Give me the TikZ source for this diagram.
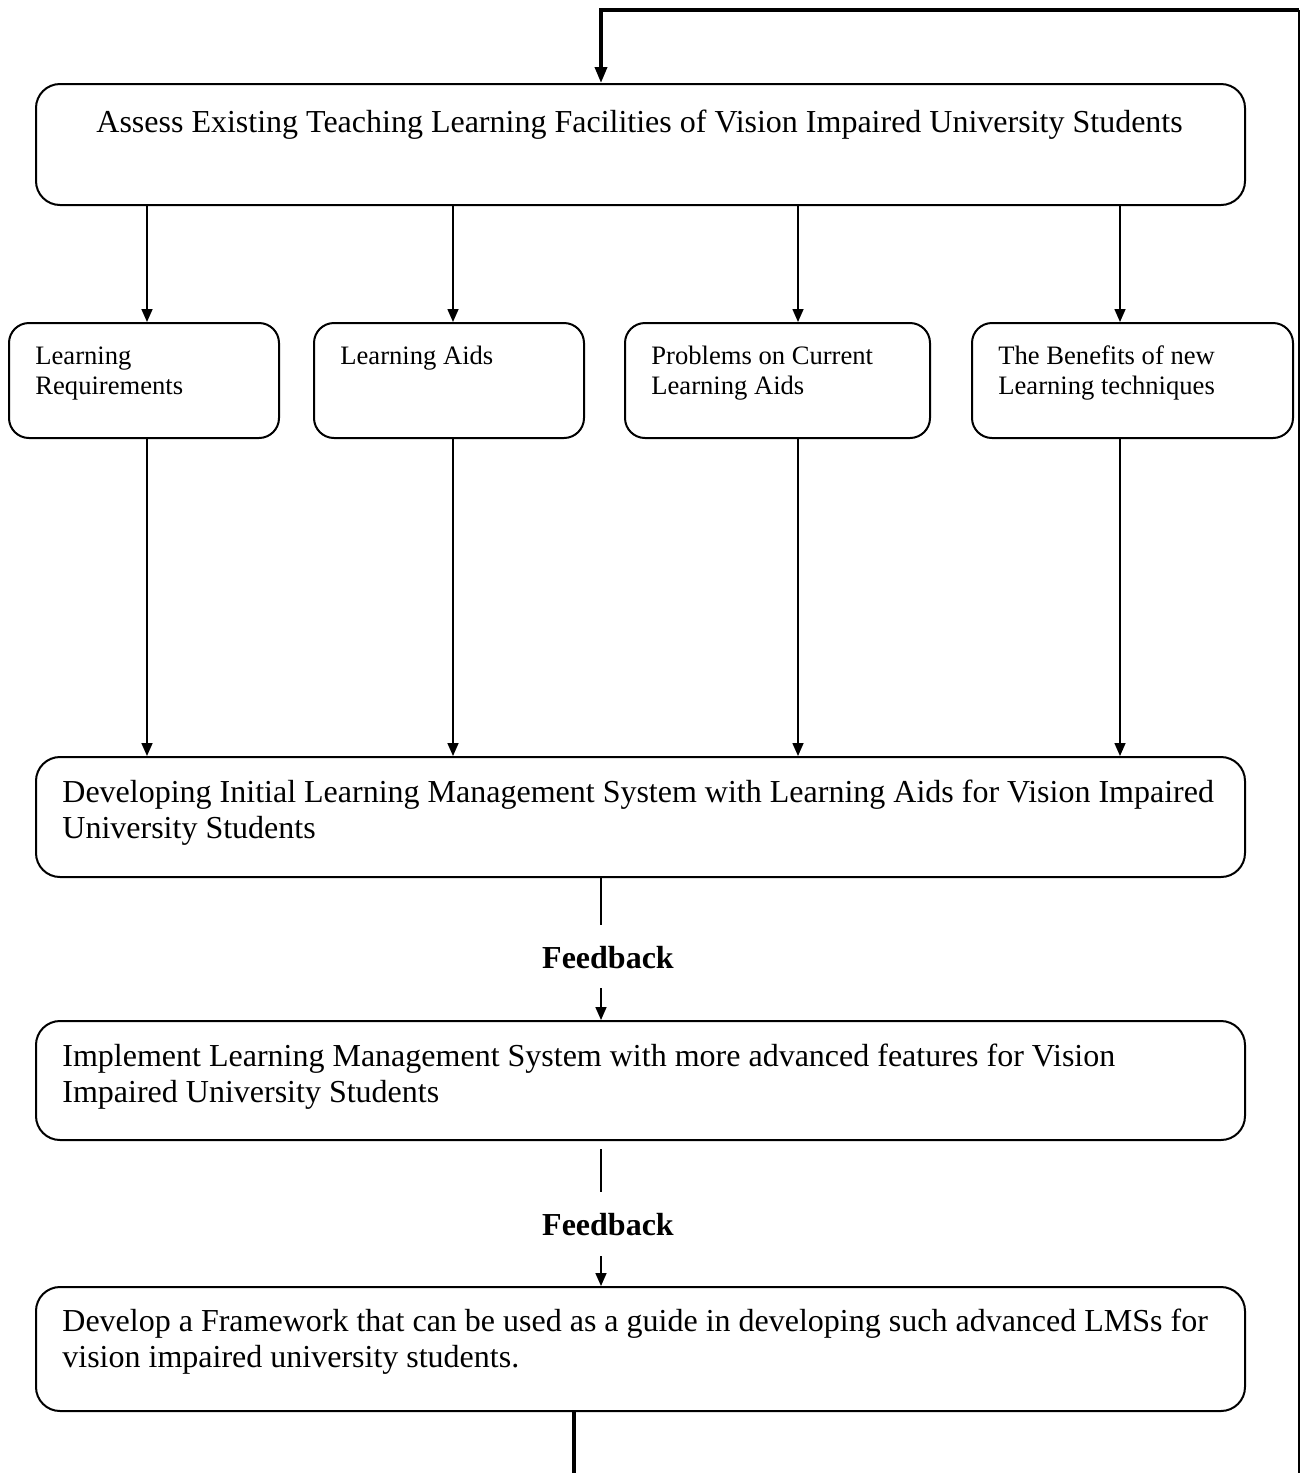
\documentclass[tikz,border=0pt]{standalone}
\usepackage{fontspec}
\setmainfont{Liberation Serif}
\usetikzlibrary{arrows.meta}
\begin{document}
\begin{tikzpicture}[x=0.5pt,y=-0.5pt,
  bigbox/.style={draw,line width=1pt,rounded corners=12pt,minimum width=604.5pt,inner sep=0pt},
  smallbox/.style={draw,line width=1pt,rounded corners=10pt,minimum height=57.5pt,inner sep=0pt},
  bigtxt/.style={anchor=base west,inner sep=0pt,font=\fontsize{16}{18}\selectfont,align=left},
  smalltxt/.style={anchor=base west,inner sep=0pt,font=\fontsize{13.3}{15}\selectfont,align=left},
  fbtxt/.style={anchor=base,inner sep=0pt,font=\fontsize{16}{18}\selectfont\bfseries},
  arr/.style={line width=0.8pt,-{Triangle[length=6.5pt,width=5.5pt]}},
  plain/.style={line width=0.8pt},
  loopline/.style={line width=1.8pt},
  loopthin/.style={line width=1.2pt}]
\useasboundingbox (0,0) rectangle (1302,1473);
% boxes
\node[bigbox,minimum height=60.5pt] (top) at (640.5,144.5) {};
\node[smallbox,minimum width=135pt] (b1) at (144,380.5) {};
\node[smallbox,minimum width=135pt] (b2) at (449,380.5) {};
\node[smallbox,minimum width=152.5pt] (b3) at (777.5,380.5) {};
\node[smallbox,minimum width=160.5pt] (b4) at (1132.5,380.5) {};
\node[bigbox,minimum height=60pt] (dev) at (640.5,817) {};
\node[bigbox,minimum height=59.5pt] (imp) at (640.5,1080.5) {};
\node[bigbox,minimum height=62pt] (fw) at (640.5,1349) {};
% texts (base = baseline of last line)
\node[bigtxt] (ttop) at (96,132) {Assess Existing Teaching Learning Facilities of Vision Impaired University Students};
\node[smalltxt] (t1) at (35,394) {Learning\\Requirements};
\node[smalltxt] (t2) at (340,364) {Learning Aids};
\node[smalltxt] (t3) at (651,394) {Problems on Current\\Learning Aids};
\node[smalltxt] (t4) at (998,394) {The Benefits of new\\Learning techniques};
\node[bigtxt] (tdev) at (62,838) {Developing Initial Learning Management System with Learning Aids for Vision Impaired\\University Students};
\node[bigtxt] (timp) at (62,1102) {Implement Learning Management System with more advanced features for Vision\\Impaired University Students};
\node[bigtxt] (tfw) at (62,1367) {Develop a Framework that can be used as a guide in developing such advanced LMSs for\\vision impaired university students.};
\node[fbtxt] (fb1) at (608,968) {Feedback};
\node[fbtxt] (fb2) at (608,1235) {Feedback};
% arrow x positions
\coordinate (c1) at (147,0);
\coordinate (c2) at (453,0);
\coordinate (c3) at (798,0);
\coordinate (c4) at (1120,0);
\coordinate (cm) at (601,0);
\coordinate (fb1a) at (601,925);
\coordinate (fb1b) at (601,988);
\coordinate (fb2a) at (601,1192);
\coordinate (fb2b) at (601,1256);
\coordinate (lb) at (574,1490);
\coordinate (rb) at (1299,1490);
\coordinate (rt) at (1299,10);
\coordinate (lt) at (601,10);
% connectors
\foreach \c/\b in {c1/b1,c2/b2,c3/b3,c4/b4}{
  \draw[arr] (top.south -| \c) -- (\b.north -| \c);
  \draw[arr] (\b.south -| \c) -- (dev.north -| \c);
}
\draw[plain] (dev.south -| cm) -- (fb1a);
\draw[arr] (fb1b) -- (imp.north -| cm);
\draw[plain] (imp.south -| cm) ++(0,8) -- (fb2a);
\draw[arr] (fb2b) -- (fw.north -| cm);
% feedback loop
\draw[loopline] (fw.south -| lb) -- (lb) -- (rb);
\draw[loopthin] (rb) -- (rt);
\draw[loopline,-{Triangle[length=8pt,width=6pt]}] (rt) -- (lt) -- (top.north -| lt);
\end{tikzpicture}
\end{document}
